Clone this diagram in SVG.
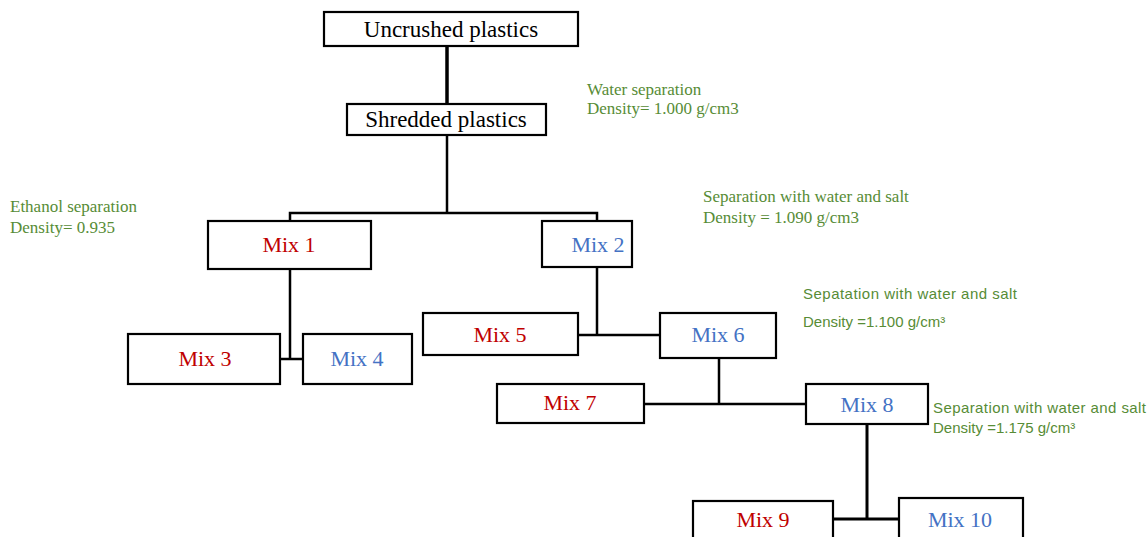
<svg xmlns="http://www.w3.org/2000/svg" width="1148" height="537" viewBox="0 0 1148 537">
<style>
.box{fill:#fff;stroke:#000;stroke-width:2.2}
.lbl{font-family:"Liberation Serif",serif;font-size:22px;text-anchor:middle;fill:#000}
.big{font-size:23px}
.red{fill:#C00000}
.blue{fill:#4472C4}
.ann{font-family:"Liberation Serif",serif;font-size:17px;fill:#578C36}
.anns{font-family:"Liberation Sans",sans-serif;font-size:15px;fill:#578C36}
.conn{fill:none;stroke:#000;stroke-width:2.5}
</style>
<rect width="1148" height="537" fill="#fff"/>
<g id="connectors">
<path class="conn" d="M447 47V104" style="stroke-width:3.5"/>
<path class="conn" d="M447 135V213M290 221V213H597V221"/>
<path class="conn" d="M290 269V359M280 359H303"/>
<path class="conn" d="M597 267V335M578 335H660"/>
<path class="conn" d="M719 358V404M644 404H806"/>
<path class="conn" d="M867 424V519M833 519H899" style="stroke-width:3"/>
</g>
<g id="n-uncrushed"><rect class="box" x="324" y="12" width="254" height="34"/><text class="lbl big" x="451" y="37">Uncrushed plastics</text></g>
<g id="n-shredded"><rect class="box" x="347" y="104" width="199" height="31"/><text class="lbl big" x="446" y="127">Shredded plastics</text></g>
<g id="n-mix1"><rect class="box" x="208" y="221" width="163" height="48"/><text class="lbl red" x="289" y="252">Mix 1</text></g>
<g id="n-mix2"><rect class="box" x="542" y="221" width="90" height="46"/><text class="lbl blue" x="598" y="252">Mix 2</text></g>
<g id="n-mix3"><rect class="box" x="128" y="334" width="152" height="50"/><text class="lbl red" x="205" y="366">Mix 3</text></g>
<g id="n-mix4"><rect class="box" x="303" y="334" width="109" height="50"/><text class="lbl blue" x="357" y="366">Mix 4</text></g>
<g id="n-mix5"><rect class="box" x="423" y="313" width="155" height="42"/><text class="lbl red" x="500" y="342">Mix 5</text></g>
<g id="n-mix6"><rect class="box" x="660" y="313" width="116" height="45"/><text class="lbl blue" x="718" y="342">Mix 6</text></g>
<g id="n-mix7"><rect class="box" x="497" y="384" width="147" height="39"/><text class="lbl red" x="570" y="410">Mix 7</text></g>
<g id="n-mix8"><rect class="box" x="806" y="384" width="122" height="40"/><text class="lbl blue" x="867" y="412">Mix 8</text></g>
<g id="n-mix9"><rect class="box" x="693" y="501" width="140" height="45"/><text class="lbl red" x="763" y="527">Mix 9</text></g>
<g id="n-mix10"><rect class="box" x="899" y="498" width="124" height="48"/><text class="lbl blue" x="960" y="527">Mix 10</text></g>
<g id="annotations">
<text class="ann" x="587" y="95">Water separation</text>
<text class="ann" x="587" y="114">Density= 1.000 g/cm3</text>
<text class="ann" x="10" y="212">Ethanol separation</text>
<text class="ann" x="10" y="233">Density= 0.935</text>
<text class="ann" x="703" y="202">Separation with water and salt</text>
<text class="ann" x="703" y="223">Density = 1.090 g/cm3</text>
<text class="anns" x="803" y="299" textLength="214">Sepatation with water and salt</text>
<text class="anns" x="803" y="327">Density =1.100 g/cm³</text>
<text class="anns" x="933" y="413" textLength="213">Separation with water and salt</text>
<text class="anns" x="933" y="433">Density =1.175 g/cm³</text>
</g>
</svg>
